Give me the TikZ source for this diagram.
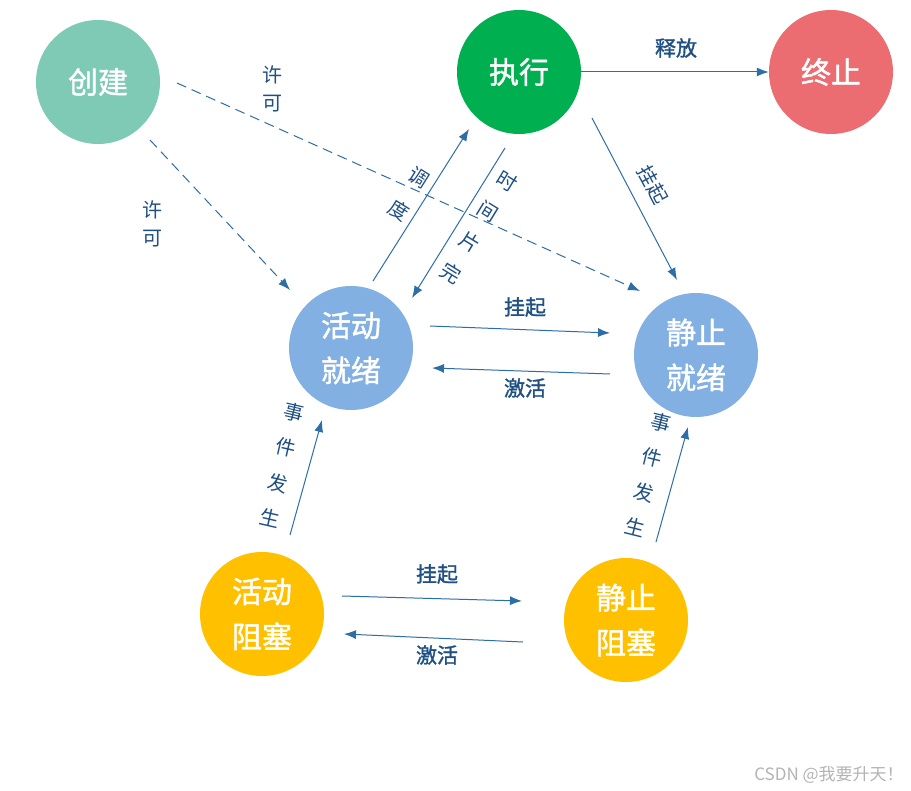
\documentclass[tikz,border=0pt]{standalone}
\usepackage{fontspec}
\setmainfont{Liberation Sans}
\newfontfamily\cjk{Noto Sans CJK SC}
\newfontfamily\cjkm{Noto Sans CJK SC}[FakeBold=1.4]
\usetikzlibrary{arrows.meta}
\definecolor{cteal}{HTML}{7ECAB4}
\definecolor{cgreen}{HTML}{00B050}
\definecolor{cred}{HTML}{EC6D71}
\definecolor{cblue}{HTML}{82B0E2}
\definecolor{cyellow}{HTML}{FFC000}
\definecolor{arrowc}{HTML}{2E6EA6}
\definecolor{labelc}{HTML}{1F5084}
\definecolor{wmark}{HTML}{B4B4B4}
\begin{document}
\begin{tikzpicture}[x=1pt,y=-1pt,
  state/.style={circle, minimum size=124pt, inner sep=0pt, text=white,
    font=\cjkm\fontsize{30}{45}\selectfont, align=center},
  conn/.style={draw=arrowc, line width=1pt, -{Latex[length=12pt,width=9pt]}},
  dconn/.style={conn, dash pattern=on 10pt off 6pt},
  lbl/.style={text=labelc, font=\cjkm\fontsize{21}{25}\selectfont, inner sep=0pt},
  vlbl/.style={text=labelc, font=\cjk\fontsize{20}{36}\selectfont, inner sep=0pt, align=center},
]
\useasboundingbox (0,0) rectangle (911,791);
\fill[white] (0,0) rectangle (911,791);

% states
\node[state, fill=cteal]   (create) at (98,82)  {创建};
\node[state, fill=cgreen]  (exec)   at (519,72) {执行};
\node[state, fill=cred]    (term)   at (831,72) {终止};
\node[state, fill=cblue]   (ar)     at (351,348) {活动\\就绪};
\node[state, fill=cblue]   (sr)     at (696,355) {静止\\就绪};
\node[state, fill=cyellow] (ab)     at (262,614) {活动\\阻塞};
\node[state, fill=cyellow] (sb)     at (626,620) {静止\\阻塞};

% connector end points
\coordinate (p1s) at (150,140); \coordinate (p1e) at (290,290);
\coordinate (p2s) at (177,83);  \coordinate (p2e) at (640,291);
\coordinate (p3s) at (373,281); \coordinate (p3e) at (469,129);
\coordinate (p4s) at (505,148); \coordinate (p4e) at (412,298);
\coordinate (p5s) at (592,118); \coordinate (p5e) at (677,280);
\coordinate (p6s) at (430,326); \coordinate (p6e) at (610,333);
\coordinate (p7s) at (610,374); \coordinate (p7e) at (432,368);
\coordinate (p8s) at (290,535); \coordinate (p8e) at (322,420);
\coordinate (p9s) at (656,542); \coordinate (p9e) at (688,427);
\coordinate (p10s) at (342,596); \coordinate (p10e) at (522,601);
\coordinate (p11s) at (523,642); \coordinate (p11e) at (344,634);

% connectors
\draw[conn] (exec) -- (term);
\draw[dconn] (p1s) -- (p1e);
\draw[dconn] (p2s) -- (p2e);
\draw[conn] (p3s) -- (p3e);
\draw[conn] (p4s) -- (p4e);
\draw[conn] (p5s) -- (p5e);
\draw[conn] (p6s) -- (p6e);
\draw[conn] (p7s) -- (p7e);
\draw[conn] (p8s) -- (p8e);
\draw[conn] (p9s) -- (p9e);
\draw[conn] (p10s) -- (p10e);
\draw[conn] (p11s) -- (p11e);

% labels
\node[lbl] (l1) at (676,48) {释放};
\node[vlbl, font=\cjk\fontsize{20}{28}\selectfont] (l2) at (152,224) {许\\可};
\node[vlbl, font=\cjk\fontsize{20}{28}\selectfont] (l3) at (272,89) {许\\可};
\node[vlbl, rotate=-32, font=\cjk\fontsize{20}{38}\selectfont] (l4) at (409,194) {调\\度};
\node[vlbl, rotate=-31.5] (l5) at (479,227) {时\\间\\片\\完};
\node[vlbl, font=\cjk\fontsize{20}{25}\selectfont, rotate=-62] (l6) at (653,185) {挂起};
\node[lbl] (l7) at (525,307) {挂起};
\node[lbl] (l8) at (525,388) {激活};
\node[vlbl, rotate=-13] (l9) at (282,465) {事\\件\\发\\生};
\node[vlbl, rotate=-14] (l10) at (648,475) {事\\件\\发\\生};
\node[lbl] (l11) at (437,574) {挂起};
\node[lbl] (l12) at (437,655) {激活};

\node[text=wmark, font=\cjk\fontsize{17}{20}\selectfont, inner sep=0pt] (wm) at (829,775) {CSDN @我要升天！};
\end{tikzpicture}
\end{document}
